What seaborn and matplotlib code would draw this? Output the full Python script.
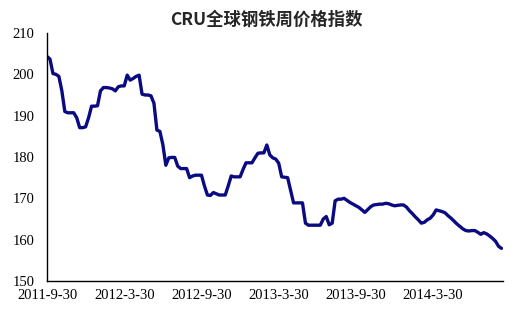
import matplotlib
matplotlib.use("Agg")
import matplotlib.pyplot as plt
import seaborn as sns
import pandas as pd

title = "CRU全球钢铁周价格指数"
tick_labels = ["2011-9-30", "2012-3-30", "2012-9-30", "2013-3-30", "2013-9-30", "2014-3-30"]
tick_weeks = [0, 26, 52, 78, 104, 130]

# weekly index values (week 0 = 2011-9-30)
values = [
    204.3, 203.7, 200.2, 200.0, 199.5, 196.0, 191.0, 190.7, 190.7, 190.7,
    189.5, 187.1, 187.1, 187.3, 189.5, 192.3, 192.3, 192.4, 196.0, 196.8,
    196.8, 196.7, 196.5, 196.0, 197.0, 197.2, 197.2, 199.8, 198.6, 199.0,
    199.5, 199.8, 195.2, 195.0, 195.0, 194.8, 193.0, 186.5, 186.2, 183.0,
    178.0, 179.8, 179.9, 179.9, 177.8, 177.2, 177.2, 177.2, 175.0, 175.4,
    175.6, 175.6, 175.6, 173.0, 170.8, 170.7, 171.4, 171.1, 170.8, 170.8,
    170.8, 173.0, 175.4, 175.2, 175.2, 175.2, 177.0, 178.6, 178.6, 178.6,
    179.8, 180.9, 181.0, 181.0, 182.9, 180.5, 179.8, 179.5, 178.5, 175.2,
    175.1, 175.0, 172.0, 168.9, 168.9, 168.9, 168.9, 164.0, 163.5, 163.5,
    163.5, 163.5, 163.5, 165.0, 165.6, 163.6, 164.0, 169.4, 169.8, 169.8,
    170.0, 169.5, 169.0, 168.6, 168.2, 167.8, 167.2, 166.6, 167.3, 168.0,
    168.4, 168.5, 168.6, 168.6, 168.8, 168.7, 168.4, 168.2, 168.3, 168.4,
    168.4, 167.9, 167.0, 166.3, 165.5, 164.8, 164.0, 164.2, 164.8, 165.2,
    166.0, 167.2, 167.0, 166.8, 166.5, 165.8, 165.2, 164.5, 163.8, 163.2,
    162.6, 162.2, 162.1, 162.2, 162.2, 161.8, 161.3, 161.7, 161.4, 160.9,
    160.3, 159.6, 158.4, 157.9,
]

df = pd.DataFrame({"week": list(range(len(values))), "index": values})

sns.set_style("white")
plt.rcParams["font.family"] = ["Liberation Serif", "DejaVu Serif"]

fig = plt.figure(figsize=(5.19, 3.16), dpi=100)
ax = fig.add_axes([47 / 519, 1 - 281 / 316, (502.7 - 47) / 519, (281 - 33) / 316])

sns.lineplot(data=df, x="week", y="index", ax=ax, color="#0a0a82", linewidth=2.4)

ax.set_xlim(0, 153.4)
ax.set_ylim(150, 210)
ax.set_yticks([150, 160, 170, 180, 190, 200, 210])
ax.set_xticks(tick_weeks)
ax.set_xticklabels(tick_labels)
ax.set_xlabel("")
ax.set_ylabel("")

for s in ["top", "right"]:
    ax.spines[s].set_visible(False)
for s in ["left", "bottom"]:
    ax.spines[s].set_color("black")
    ax.spines[s].set_linewidth(1.0)

ax.tick_params(axis="both", direction="in", length=4, width=1, colors="black", labelsize=10.5)
ax.tick_params(axis="y", pad=9)
ax.tick_params(axis="x", pad=6)
ax.grid(False)

fig.text(266 / 519, 1 - 20 / 316, title, ha="center", va="center",
         fontsize=12.5, fontweight="bold", family=["Noto Sans CJK SC", "DejaVu Sans"])

fig.savefig("out.png", dpi=100, facecolor="white")
